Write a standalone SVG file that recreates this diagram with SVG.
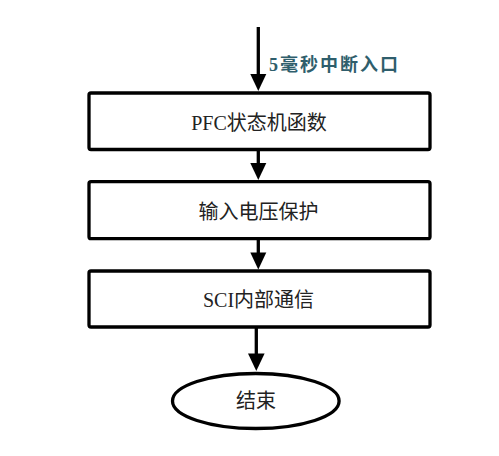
<svg xmlns="http://www.w3.org/2000/svg" width="499" height="456" viewBox="0 0 499 456">
<style>
.box{fill:#fff;stroke:#000;stroke-width:3.3;stroke-linejoin:round}
.txt{font-family:"Liberation Serif","Noto Sans CJK SC",serif;font-size:20px;fill:#222;text-anchor:middle}
.lbl{font-family:"Liberation Serif","Noto Sans CJK SC",serif;font-size:18px;font-weight:bold;fill:#2f5e6c;letter-spacing:2px}
.conn{stroke:#000;stroke-width:3.3;fill:none}
</style>
<rect width="499" height="456" fill="#fff"/>
<g id="connectors">
<line class="conn" x1="258.3" y1="27" x2="258.3" y2="74"/>
<path d="M250.3,74 L266.3,74 L258.3,91 Z" fill="#000"/>
<line class="conn" x1="258.3" y1="149" x2="258.3" y2="164"/>
<path d="M250.3,163 L266.3,163 L258.3,180 Z" fill="#000"/>
<line class="conn" x1="258.3" y1="238" x2="258.3" y2="253"/>
<path d="M250.3,252.5 L266.3,252.5 L258.3,269.5 Z" fill="#000"/>
<line class="conn" x1="256.3" y1="327" x2="256.3" y2="355"/>
<path d="M248,353.5 L264.6,353.5 L256.3,371 Z" fill="#000"/>
</g>
<g id="label-entry">
<text class="lbl" x="269" y="71">5毫秒中断入口</text>
</g>
<g id="node-pfc">
<rect class="box" x="89" y="93" width="341" height="56.5" rx="2"/>
<text class="txt" x="259" y="130">PFC状态机函数</text>
</g>
<g id="node-input">
<rect class="box" x="89" y="181.7" width="341" height="57" rx="2"/>
<text class="txt" x="258.5" y="219">输入电压保护</text>
</g>
<g id="node-sci">
<rect class="box" x="89" y="271" width="341" height="56" rx="2"/>
<text class="txt" x="258.5" y="306.5">SCI内部通信</text>
</g>
<g id="node-end">
<ellipse cx="255.8" cy="401" rx="83.3" ry="27.5" fill="#fff" stroke="#000" stroke-width="3.3"/>
<text class="txt" x="256" y="407.5">结束</text>
</g>
</svg>
